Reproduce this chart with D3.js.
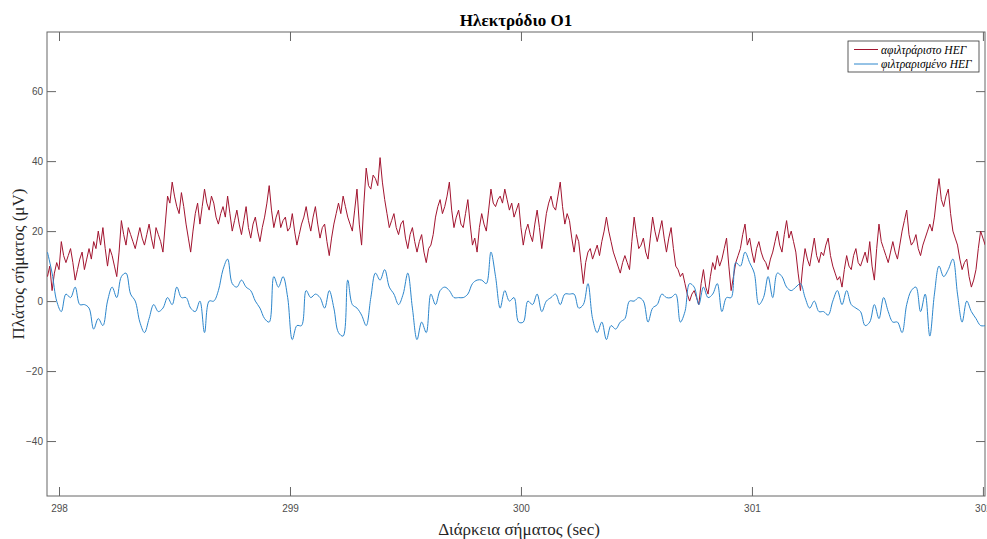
<!DOCTYPE html>
<html>
<head>
<meta charset="utf-8">
<script src="https://cdn.jsdelivr.net/npm/d3@7"></script>
<style>
  html, body { margin: 0; padding: 0; background: #fff; overflow: hidden; }
  .tick text { font-family: "Liberation Sans", Arial, sans-serif; font-size: 10px; fill: #4d4d4d; }
</style>
</head>
<body>
<div id="chart"></div>
<script>
// sampled signals: start time and sample steps (sec)
const startTime = 297.95;
const rawStep = 0.01;
const filteredStep = 0.02;

// unfiltered EEG (μV)
const rawEEG = [
  7, 10, 3, 8, 11, 9, 17, 13, 11, 13, 15, 11, 6, 9, 12, 14, 9, 12, 15, 12,
  17, 15, 20, 16, 21, 15, 10, 15, 13, 10, 7, 14, 23, 19, 16, 21, 19, 17, 15, 18,
  21, 18, 16, 19, 22, 18, 15, 21, 19, 17, 14, 22, 30, 28, 34, 30, 27, 25, 31, 27,
  22, 18, 14, 20, 25, 28, 22, 27, 32, 28, 26, 30, 28, 24, 22, 25, 27, 24, 30, 25,
  20, 23, 26, 22, 19, 23, 27, 21, 18, 22, 24, 20, 17, 21, 24, 28, 33, 26, 21, 24,
  26, 21, 23, 24, 20, 21, 25, 20, 16, 19, 22, 24, 27, 23, 20, 24, 27, 22, 18, 21,
  22, 17, 13, 18, 22, 25, 28, 25, 30, 27, 24, 22, 20, 26, 32, 22, 16, 28, 38, 33,
  32, 36, 35, 33, 41, 34, 29, 25, 21, 23, 25, 21, 19, 22, 23, 18, 15, 19, 21, 17,
  14, 17, 19, 14, 11, 15, 16, 19, 24, 27, 29, 25, 27, 30, 34, 26, 21, 24, 26, 22,
  21, 25, 29, 22, 16, 18, 14, 21, 25, 22, 20, 26, 32, 28, 27, 29, 30, 28, 32, 29,
  26, 28, 24, 26, 28, 21, 16, 20, 22, 19, 17, 22, 26, 21, 15, 20, 25, 28, 30, 27,
  26, 30, 34, 27, 22, 25, 23, 18, 14, 19, 17, 11, 5, 11, 14, 15, 12, 14, 16, 13,
  17, 20, 24, 20, 17, 14, 12, 10, 8, 11, 13, 11, 9, 17, 24, 19, 15, 16, 18, 14,
  12, 18, 24, 20, 17, 20, 23, 18, 14, 18, 21, 15, 10, 9, 7, 8, 5, 2, 0, 2,
  3, 1, -1, 5, 9, 4, 2, 7, 11, 9, 13, 10, 12, 15, 18, 10, 3, 7, 11, 13,
  15, 19, 22, 16, 18, 14, 11, 15, 17, 14, 12, 11, 9, 12, 14, 17, 20, 16, 14, 19,
  23, 18, 20, 17, 14, 8, 3, 10, 15, 12, 10, 14, 18, 13, 11, 14, 13, 16, 18, 13,
  10, 8, 6, 7, 4, 9, 13, 10, 9, 13, 15, 11, 10, 12, 14, 11, 17, 10, 6, 15,
  22, 17, 15, 13, 11, 14, 17, 14, 12, 16, 20, 23, 26, 19, 16, 17, 19, 15, 13, 16,
  18, 20, 22, 20, 24, 30, 35, 29, 27, 30, 32, 25, 20, 18, 16, 12, 9, 11, 12, 7,
  4, 6, 9, 15, 20, 18, 16
];

// filtered EEG (μV)
const filteredEEG = [
  14, 8, 0, -3, 2, 1, 4, -1, -1, -2, -8, -5, -7, 0, 4, 1, 7, 8, 2, 0,
  -6, -9, -5, -1, -3, -2, 1, -1, 4, 1, 1, -2, -3, 0, -9, 0, 0, 3, 9, 12,
  5, 4, 6, 4, 3, 0, -2, -5, -6, 7, 4, 7, 1, -11, -7, -7, 3, 1, 2, 1,
  -2, 3, -2, -9, -10, 6, -1, -2, -4, -7, 1, 8, 6, 9, 4, 2, -1, 2, 8, -2,
  -11, -6, -9, 2, -1, 3, 4, 3, 1, 1, 1, 2, 5, 6, 6, 5, 14, 7, -2, 3,
  0, 1, -6, -6, 0, -1, 2, -3, 0, 1, 2, -1, 2, 2, 2, -2, -1, 5, -5, -9,
  -6, -11, -7, -8, -6, -5, 0, 0, 1, 0, -6, -2, -1, 2, 1, 1, 2, -6, -3, 5,
  4, -1, 4, 1, 2, 5, -3, 1, 1, 11, 10, 14, 11, 8, -1, 1, 7, 1, 8, 7,
  4, 3, 4, 5, 1, -2, 0, -3, -3, -4, 0, 3, -1, 3, -1, -2, -3, -7, -6, -1,
  -5, 1, -3, -6, -6, -9, -1, 3, 4, -3, 2, -10, 2, 10, 7, 9, 12, 2, -6, 0,
  -3, -5, -7, -7
];

const xTicks = [298, 299, 300, 301, 302];
const yTicks = [-40, -20, 0, 20, 40, 60];
const seriesNames = ['αφιλτράριστο ΗΕΓ', 'φιλτραρισμένο ΗΕΓ'];
const seriesColors = ['#A2142F', '#2C86CC'];

const W = 987, H = 539;
const plot = { left: 47, right: 985, top: 32, bottom: 496 };

const svg = d3.select('#chart').append('svg')
  .attr('width', W)
  .attr('height', H);

const x = d3.scaleLinear().domain([297.948, 302.009]).range([plot.left, plot.right]);
const y = d3.scaleLinear().domain([-55.7, 76.9]).range([plot.bottom, plot.top]);

const rawTimes = rawEEG.map((_, i) => startTime + i * rawStep);
const filteredTimes = filteredEEG.map((_, i) => startTime + i * filteredStep);

svg.append('clipPath').attr('id', 'clip')
  .append('rect')
  .attr('x', plot.left).attr('y', plot.top)
  .attr('width', plot.right - plot.left).attr('height', plot.bottom - plot.top);

// Axes (MATLAB style: inward ticks on all sides)
const tickLen = 9;
svg.append('g')
  .attr('transform', `translate(0,${plot.bottom})`)
  .call(d3.axisBottom(x).tickValues(xTicks).tickSize(-tickLen).tickPadding(9).tickFormat(d3.format('d')));
svg.append('g')
  .attr('transform', `translate(0,${plot.top})`)
  .call(d3.axisTop(x).tickValues(xTicks).tickSize(-tickLen).tickFormat(''));
svg.append('g')
  .attr('transform', `translate(${plot.left},0)`)
  .call(d3.axisLeft(y).tickValues(yTicks).tickSize(-tickLen).tickPadding(4));
svg.append('g')
  .attr('transform', `translate(${plot.right},0)`)
  .call(d3.axisRight(y).tickValues(yTicks).tickSize(-tickLen).tickFormat(''));

svg.selectAll('.domain').remove();
svg.selectAll('.tick line').attr('stroke', '#666');
svg.append('rect')
  .attr('x', plot.left).attr('y', plot.top)
  .attr('width', plot.right - plot.left).attr('height', plot.bottom - plot.top)
  .attr('fill', 'none').attr('stroke', '#666').attr('stroke-width', 1);

// Lines
const rawLine = d3.line()
  .x((d, i) => x(rawTimes[i]))
  .y(d => y(d));
const smoothLine = d3.line()
  .x((d, i) => x(filteredTimes[i]))
  .y(d => y(d))
  .curve(d3.curveCatmullRom.alpha(0.5));

const lines = svg.append('g').attr('clip-path', 'url(#clip)');
lines.append('path')
  .datum(rawEEG)
  .attr('d', rawLine)
  .attr('fill', 'none')
  .attr('stroke', seriesColors[0])
  .attr('stroke-width', 1);
lines.append('path')
  .datum(filteredEEG)
  .attr('d', smoothLine)
  .attr('fill', 'none')
  .attr('stroke', seriesColors[1])
  .attr('stroke-width', 1);

// Title and labels
const serif = '"Liberation Serif", "Times New Roman", serif';
svg.append('text')
  .attr('x', (plot.left + plot.right) / 2)
  .attr('y', 26)
  .attr('text-anchor', 'middle')
  .attr('font-family', serif)
  .attr('font-weight', 'bold')
  .attr('font-size', 17)
  .attr('fill', '#000')
  .text('Ηλεκτρόδιο O1');

svg.append('text')
  .attr('x', 519)
  .attr('y', 535)
  .attr('text-anchor', 'middle')
  .attr('font-family', serif)
  .attr('font-size', 17)
  .attr('fill', '#262626')
  .text('Διάρκεια σήματος (sec)');

svg.append('text')
  .attr('transform', `translate(24,${(plot.top + plot.bottom) / 2}) rotate(-90)`)
  .attr('text-anchor', 'middle')
  .attr('font-family', serif)
  .attr('font-size', 17)
  .attr('fill', '#262626')
  .text('Πλάτος σήματος (μV)');

// Legend
const legend = svg.append('g').attr('transform', 'translate(848,41)');
legend.append('rect')
  .attr('width', 131).attr('height', 31)
  .attr('fill', '#fff').attr('stroke', '#333').attr('stroke-width', 0.8);
seriesNames.forEach((name, i) => {
  const ly = 8.5 + i * 14.5;
  legend.append('line')
    .attr('x1', 6).attr('x2', 30).attr('y1', ly).attr('y2', ly)
    .attr('stroke', seriesColors[i]).attr('stroke-width', 1);
  legend.append('text')
    .attr('x', 33).attr('y', ly + 4)
    .attr('font-family', serif)
    .attr('font-style', 'italic')
    .attr('font-size', 11.5)
    .attr('fill', '#000')
    .text(name);
});
</script>
</body>
</html>
